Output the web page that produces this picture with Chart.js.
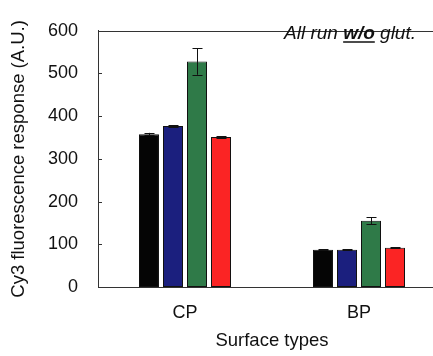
<!DOCTYPE html>
<html>
<head>
<meta charset="utf-8">
<script src="https://cdn.jsdelivr.net/npm/chart.js@4"></script>
<style>
  html, body { margin: 0; padding: 0; background: #fff; overflow: hidden; }
  #wrap { width: 450px; height: 356px; position: relative; }
</style>
</head>
<body>
<div id="wrap"><canvas id="c" width="450" height="356"></canvas></div>
<script>
// Surface types on the x axis
const categories = ['CP', 'BP'];

// Cy3 fluorescence response (A.U.) for the four runs, with error bars
const run1 = [358, 87];
const run2 = [377, 87];
const run3 = [528, 155];
const run4 = [351, 92];
const run1Err = [3, 1];
const run2Err = [2, 1];
const run3Err = [31, 8];
const run4Err = [2, 1];

const yTicks = [0, 100, 200, 300, 400, 500, 600];

const FONT = 'Liberation Sans, Arial, sans-serif';

function series(data, err, color) {
  return {
    data: data,
    err: err,
    backgroundColor: color,
    borderColor: '#111',
    borderWidth: 1,
    borderSkipped: false,
    categoryPercentage: 0.552,
    barPercentage: 0.833
  };
}

// Error bars, inward y ticks, top frame line and the annotation
const decorations = {
  id: 'decorations',
  afterDatasetsDraw(chart) {
    const ctx = chart.ctx;
    const y = chart.scales.y;
    const area = chart.chartArea;
    ctx.save();
    ctx.strokeStyle = '#111';
    ctx.lineWidth = 1;
    chart.data.datasets.forEach((ds, i) => {
      const meta = chart.getDatasetMeta(i);
      meta.data.forEach((bar, j) => {
        const e = ds.err[j];
        const v = ds.data[j];
        const yt = y.getPixelForValue(v + e);
        const yb = y.getPixelForValue(v - e);
        const x = Math.round(bar.x) + 0.5;
        ctx.beginPath();
        ctx.moveTo(x, yt); ctx.lineTo(x, yb);
        ctx.moveTo(x - 5, Math.round(yt) + 0.5); ctx.lineTo(x + 5, Math.round(yt) + 0.5);
        ctx.moveTo(x - 5, Math.round(yb) + 0.5); ctx.lineTo(x + 5, Math.round(yb) + 0.5);
        ctx.stroke();
      });
    });
    // inward ticks on the y axis
    ctx.strokeStyle = '#333';
    yTicks.forEach(t => {
      const py = Math.round(y.getPixelForValue(t)) + 0.5;
      ctx.beginPath();
      ctx.moveTo(area.left, py); ctx.lineTo(area.left + 4, py);
      ctx.stroke();
    });
    // top frame line
    ctx.beginPath();
    ctx.moveTo(area.left, Math.round(area.top) + 0.5);
    ctx.lineTo(area.right, Math.round(area.top) + 0.5);
    ctx.stroke();

    // annotation: "All run w/o glut."
    ctx.fillStyle = '#111';
    ctx.textBaseline = 'alphabetic';
    ctx.textAlign = 'left';
    const base = 39;
    let x = 284;
    const parts = [
      { t: 'All run ', f: 'italic 19px ' + FONT },
      { t: 'w/o', f: 'italic bold 19px ' + FONT, u: true },
      { t: ' glut.', f: 'italic 19px ' + FONT }
    ];
    parts.forEach(p => {
      ctx.font = p.f;
      ctx.fillText(p.t, x, base);
      const w = ctx.measureText(p.t).width;
      if (p.u) {
        ctx.strokeStyle = '#111';
        ctx.lineWidth = 1.5;
        ctx.beginPath();
        ctx.moveTo(x, base + 3); ctx.lineTo(x + w, base + 3);
        ctx.stroke();
      }
      x += w;
    });
    ctx.restore();
  }
};

new Chart(document.getElementById('c'), {
  type: 'bar',
  data: {
    labels: categories,
    datasets: [
      series(run1, run1Err, '#050505'),
      series(run2, run2Err, '#1b1f7e'),
      series(run3, run3Err, '#2f7a48'),
      series(run4, run4Err, '#fb2424')
    ]
  },
  options: {
    responsive: false,
    animation: false,
    layout: { padding: { left: 0, top: 11, right: 4, bottom: 0 } },
    plugins: { legend: { display: false }, tooltip: { enabled: false } },
    scales: {
      x: {
        grid: { display: false, drawTicks: false },
        border: { display: true, color: '#333', width: 1 },
        ticks: { color: '#111', font: { family: FONT, size: 18 }, padding: 15 },
        title: {
          display: true,
          text: 'Surface types',
          color: '#111',
          font: { family: FONT, size: 18.5 },
          padding: { top: 5, bottom: 4 }
        },
        afterFit(scale) { scale.height = 69; }
      },
      y: {
        min: 0,
        max: 600,
        afterBuildTicks(scale) { scale.ticks = yTicks.map(v => ({ value: v })); },
        grid: { display: false, drawTicks: false },
        border: { display: true, color: '#333', width: 1 },
        ticks: { color: '#111', font: { family: FONT, size: 18 }, padding: 20 },
        title: {
          display: true,
          text: 'Cy3 fluorescence response (A.U.)',
          color: '#111',
          font: { family: FONT, size: 18.5 },
          padding: { top: 8, bottom: 0 }
        },
        afterFit(scale) { scale.width = 98; }
      }
    }
  },
  plugins: [decorations]
});
</script>
</body>
</html>
